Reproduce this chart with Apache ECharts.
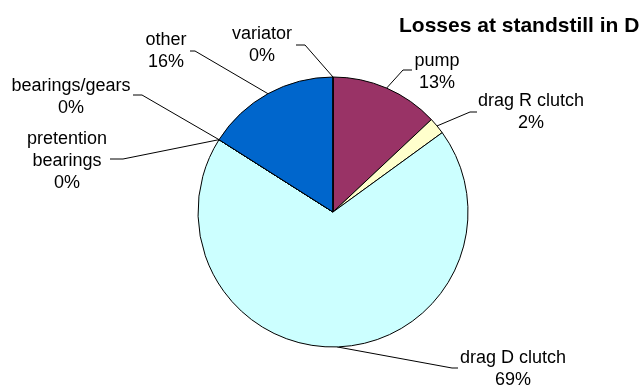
<!DOCTYPE html>
<html>
<head>
<meta charset="utf-8">
<script src="https://cdn.jsdelivr.net/npm/echarts@6/dist/echarts.min.js"></script>
<style>
  html, body { margin: 0; padding: 0; background: #ffffff; }
  #chart { width: 642px; height: 387px; }
</style>
</head>
<body>
<div id="chart"></div>
<script>
// Loss components at standstill in D, in percent of total
const categories = ['pump', 'drag R clutch', 'drag D clutch', 'pretention\nbearings', 'bearings/gears', 'other', 'variator'];
const lossShares = [13, 2, 69, 0, 0, 16, 0];
const sliceColors = ['#993366', '#FFFFCC', '#CCFFFF', '#CCFFFF', '#0066CC', '#0066CC', '#993366'];

// Where each label block sits and how its leader line bends (px)
const labelPlacement = [
  { x: 437, y: 72,  bend: [[403, 70], [412, 70]] },
  { x: 531, y: 112, bend: [[470, 112], [477, 112]] },
  { x: 513, y: 369, bend: [[452, 368], [458, 368]] },
  { x: 67,  y: 161, bend: [[123, 159], [110, 159]] },
  { x: 71,  y: 97,  bend: [[142, 95], [133, 95]] },
  { x: 166, y: 51,  bend: [[195, 51], [190, 51]] },
  { x: 262, y: 45,  bend: [[305, 45], [296, 45]] }
];

const chart = echarts.init(document.getElementById('chart'), null, { renderer: 'canvas' });

chart.setOption({
  backgroundColor: '#ffffff',
  animation: false,
  title: {
    text: 'Losses at standstill in D',
    left: 394,
    top: 11,
    textStyle: { fontFamily: 'Liberation Sans', fontWeight: 'bold', fontSize: 21, color: '#000000' }
  },
  series: [{
    type: 'pie',
    center: [333, 212],
    radius: 135,
    startAngle: 90,
    clockwise: true,
    avoidLabelOverlap: false,
    silent: true,
    data: categories.map((name, i) => ({
      name: name,
      value: lossShares[i],
      itemStyle: { color: sliceColors[i] }
    })),
    itemStyle: { borderColor: '#000000', borderWidth: 1 },
    label: {
      show: true,
      position: 'outside',
      formatter: '{b}\n{d}%',
      fontFamily: 'Liberation Sans',
      fontSize: 18,
      lineHeight: 22,
      color: '#000000',
      align: 'center'
    },
    labelLine: {
      show: true,
      lineStyle: { color: '#000000', width: 1 }
    },
    labelLayout: function (params) {
      const p = labelPlacement[params.dataIndex];
      const start = params.labelLinePoints ? params.labelLinePoints[0] : null;
      const out = {
        x: p.x,
        y: p.y,
        align: 'center',
        verticalAlign: 'middle'
      };
      if (start) {
        out.labelLinePoints = [start, p.bend[0], p.bend[1]];
      }
      return out;
    },
    emphasis: { disabled: true }
  }]
});
</script>
</body>
</html>
